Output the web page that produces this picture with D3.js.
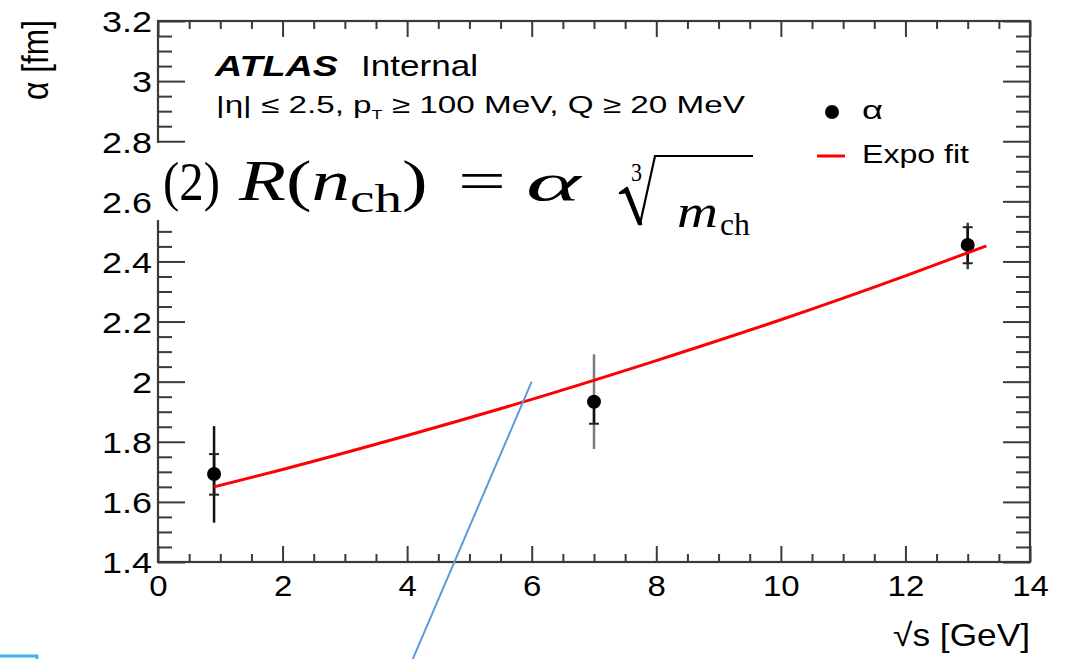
<!DOCTYPE html>
<html><head><meta charset="utf-8">
<script src="https://cdn.jsdelivr.net/npm/d3@7"></script>
<style>html,body{margin:0;padding:0;background:#fff;overflow:hidden}</style>
</head><body>
<svg id="chart" width="1071" height="659"></svg>
<script>
// Measured radius parameter alpha versus centre-of-mass energy
const energies = [0.9, 7, 13];
const alphaValues = [1.693, 1.933, 2.455];
const statErrorsUp = [0.066, 0.01, 0.059];
const statErrorsDown = [0.069, 0.073, 0.061];
const totalErrorsUp = [0.159, 0.158, 0.074];
const totalErrorsDown = [0.162, 0.157, 0.081];

// Exponential fit curve, sampled along sqrt(s)
const fitEnergies = [0.9, 2, 4, 6, 8, 10, 12, 13.3];
const fitValues = [1.650, 1.708, 1.821, 1.941, 2.070, 2.206, 2.352, 2.452];

const xTickValues = [0, 2, 4, 6, 8, 10, 12, 14];
const xTickLabels = ["0", "2", "4", "6", "8", "10", "12", "14"];
const yTickValues = [1.4, 1.6, 1.8, 2, 2.2, 2.4, 2.6, 2.8, 3, 3.2];
const yTickLabels = ["1.4", "1.6", "1.8", "2", "2.2", "2.4", "2.6", "2.8", "3", "3.2"];

const svg = d3.select("#chart");
const frame = {left: 158, right: 1030, top: 21, bottom: 562};
const x = d3.scaleLinear().domain([0, 14]).range([frame.left, frame.right]);
const y = d3.scaleLinear().domain([1.4, 3.2]).range([frame.bottom, frame.top]);

const SANS = "'Liberation Sans', Arial, Helvetica, sans-serif";
const SERIF = "'Liberation Serif', 'Times New Roman', serif";
const AXIS = "#3a3a3a";

const xMinor = d3.range(0, 29).map(i => i * 0.5).filter(v => v % 2 !== 0);
const yMinor = d3.range(0, 37).map(i => +(1.4 + i * 0.05).toFixed(2))
  .filter(v => Math.abs(v * 5 - Math.round(v * 5)) > 1e-6);

// Place a text run inside a group and stretch it along its length to a given width
function placeText(parent, opts, build) {
  const g = parent.append("g");
  const t = g.append("text")
    .attr("x", 0).attr("y", 0)
    .attr("text-anchor", opts.anchor || "start")
    .attr("font-family", opts.family || SANS)
    .attr("font-size", opts.size)
    .attr("fill", opts.fill || "#000");
  if (opts.weight) t.attr("font-weight", opts.weight);
  if (opts.style) t.attr("font-style", opts.style);
  if (build) build(t); else t.text(opts.text);
  const w = t.node().getBBox().width;
  const sx = opts.width ? opts.width / w : (opts.sx || 1);
  const sy = opts.sy || 1;
  g.attr("transform", `translate(${opts.x},${opts.y})${opts.rotate ? ` rotate(${opts.rotate})` : ""} scale(${sx},${sy})`);
  return g;
}

function styleTicks(g, width) {
  g.select(".domain").remove();
  g.selectAll(".tick line").attr("stroke", AXIS).attr("stroke-width", width || 2);
  return g;
}

// ---- axes: major and minor ticks on all four sides, pointing inward ----
const axes = svg.append("g");

styleTicks(axes.append("g").attr("transform", `translate(0,${frame.bottom})`)
  .call(d3.axisBottom(x).tickValues(xMinor).tickSizeInner(-8).tickSizeOuter(0).tickFormat("")));
styleTicks(axes.append("g").attr("transform", `translate(0,${frame.top})`)
  .call(d3.axisTop(x).tickValues(xMinor).tickSizeInner(-8).tickSizeOuter(0).tickFormat("")));
styleTicks(axes.append("g").attr("transform", `translate(0,${frame.top})`)
  .call(d3.axisTop(x).tickValues(xTickValues).tickSizeInner(-16).tickSizeOuter(0).tickFormat("")));
styleTicks(axes.append("g").attr("transform", `translate(${frame.left},0)`)
  .call(d3.axisLeft(y).tickValues(yMinor).tickSizeInner(-14).tickSizeOuter(0).tickFormat("")));
styleTicks(axes.append("g").attr("transform", `translate(${frame.right},0)`)
  .call(d3.axisRight(y).tickValues(yMinor).tickSizeInner(-14).tickSizeOuter(0).tickFormat("")));
styleTicks(axes.append("g").attr("transform", `translate(${frame.right},0)`)
  .call(d3.axisRight(y).tickValues(yTickValues).tickSizeInner(-27).tickSizeOuter(0).tickFormat("")));

const xAxis = styleTicks(axes.append("g").attr("transform", `translate(0,${frame.bottom})`)
  .call(d3.axisBottom(x).tickValues(xTickValues).tickSizeInner(-16).tickSizeOuter(0)
    .tickFormat((d, i) => xTickLabels[i])));
xAxis.selectAll(".tick text")
  .attr("y", 0).attr("dy", 0)
  .attr("transform", "translate(0,34) scale(1.1,1)")
  .attr("font-family", SANS).attr("font-size", 30).attr("fill", "#000");

const yAxis = styleTicks(axes.append("g").attr("transform", `translate(${frame.left},0)`)
  .call(d3.axisLeft(y).tickValues(yTickValues).tickSizeInner(-27).tickSizeOuter(0)
    .tickFormat((d, i) => yTickLabels[i])));
yAxis.selectAll(".tick text")
  .attr("x", 0).attr("dy", "0.36em")
  .attr("transform", "translate(-6,0) scale(1.2,1)")
  .attr("font-family", SANS).attr("font-size", 30).attr("fill", "#000");

axes.append("rect")
  .attr("x", frame.left).attr("y", frame.top)
  .attr("width", frame.right - frame.left).attr("height", frame.bottom - frame.top)
  .attr("fill", "none").attr("stroke", AXIS).attr("stroke-width", 2.2);

// ---- axis titles ----
placeText(svg, {x: 1030, y: 646, anchor: "end", size: 32, width: 137, text: "\u221As [GeV]"});
placeText(svg, {x: 48, y: 20, anchor: "end", size: 29, sy: 1.25, width: 80, rotate: -90, text: "\u03B1 [fm]"});

// ---- data points with error bars (outer: total, inner dark segment and caps: statistical) ----
const points = energies.map((e, i) => ({
  e, a: alphaValues[i],
  su: statErrorsUp[i], sd: statErrorsDown[i],
  tu: totalErrorsUp[i], td: totalErrorsDown[i]
}));
const barShades = ["#111", "#7a7a7a", "#3c3c3c"];
const pg = svg.append("g");
pg.selectAll("line.total").data(points).join("line").attr("class", "total")
  .attr("x1", d => x(d.e)).attr("x2", d => x(d.e))
  .attr("y1", d => y(d.a - d.td)).attr("y2", d => y(d.a + d.tu))
  .attr("stroke", (d, i) => barShades[i]).attr("stroke-width", 2.5);
pg.selectAll("line.stat").data(points).join("line").attr("class", "stat")
  .attr("x1", d => x(d.e)).attr("x2", d => x(d.e))
  .attr("y1", d => y(d.a - d.sd)).attr("y2", d => y(d.a + d.su))
  .attr("stroke", "#111").attr("stroke-width", 2.5);
pg.selectAll("g.caps").data(points).join("g").attr("class", "caps").each(function(d) {
  [d.a - d.sd, d.a + d.su].forEach(v => {
    d3.select(this).append("line")
      .attr("x1", x(d.e) - 5).attr("x2", x(d.e) + 5)
      .attr("y1", y(v)).attr("y2", y(v))
      .attr("stroke", "#222").attr("stroke-width", 2);
  });
});
pg.selectAll("circle").data(points).join("circle")
  .attr("cx", d => x(d.e)).attr("cy", d => y(d.a)).attr("r", 7).attr("fill", "#000");

// ---- exponential fit ----
const fitLine = d3.line().x(d => x(d[0])).y(d => y(d[1])).curve(d3.curveMonotoneX);
svg.append("path")
  .datum(fitEnergies.map((e, i) => [e, fitValues[i]]))
  .attr("d", fitLine).attr("fill", "none").attr("stroke", "#ff0000").attr("stroke-width", 3);

// ---- experiment label ----
placeText(svg, {x: 215, y: 76, size: 29, weight: "bold", style: "italic", width: 125, text: "ATLAS"});
placeText(svg, {x: 361, y: 76, size: 29, width: 117, text: "Internal"});
placeText(svg, {x: 216, y: 113, size: 24, width: 529}, t => {
  t.append("tspan").text("|\u03B7| \u2264 2.5, p");
  t.append("tspan").attr("font-size", 13).attr("dy", 6).text("T");
  t.append("tspan").attr("dy", -6).text(" \u2265 100 MeV, Q \u2265 20 MeV");
});

// ---- legend ----
const lg = svg.append("g");
lg.append("circle").attr("cx", 832).attr("cy", 112).attr("r", 7).attr("fill", "#000");
lg.append("line").attr("x1", 817).attr("x2", 845).attr("y1", 156).attr("y2", 156)
  .attr("stroke", "#ff0000").attr("stroke-width", 3);
placeText(lg, {x: 862, y: 119, size: 26, width: 21, text: "\u03B1"});
placeText(lg, {x: 862, y: 163, size: 26, width: 108, text: "Expo fit"});

// ---- radius formula ----
const fg = svg.append("g");
fg.append("rect").attr("x", 152).attr("y", 143).attr("width", 603).attr("height", 77).attr("fill", "#fff");
placeText(fg, {x: 163, y: 200, size: 54, family: SERIF, width: 57, text: "(2)"});
placeText(fg, {x: 239, y: 200, size: 56, family: SERIF, width: 190}, t => {
  t.append("tspan").attr("font-style", "italic").text("R");
  t.append("tspan").text("(");
  t.append("tspan").attr("font-style", "italic").text("n");
  t.append("tspan").attr("font-size", 40).attr("dy", 12).text("ch");
  t.append("tspan").attr("dy", -12).text(")");
});
placeText(fg, {x: 458, y: 200, size: 56, family: SERIF, width: 48, text: "="});
placeText(fg, {x: 526, y: 200, size: 52, family: SERIF, style: "italic", width: 58, text: "\u03B1"});
placeText(fg, {x: 631, y: 181, size: 26, family: SERIF, width: 11, text: "3"});
// radical sign: short lead-in, heavy down-stroke, thin up-stroke and vinculum
fg.append("path").attr("d", "M620,193 L627,188 L641,224 L639,224 L626,192 Z")
  .attr("fill", "#000").attr("stroke", "#000").attr("stroke-width", 2.5).attr("stroke-linejoin", "round");
fg.append("path").attr("d", "M640,224 L655,156 L753,156")
  .attr("fill", "none").attr("stroke", "#000").attr("stroke-width", 2.2);
placeText(fg, {x: 677, y: 227, size: 46, family: SERIF, style: "italic", width: 41, text: "m"});
placeText(fg, {x: 720, y: 235, size: 32, family: SERIF, width: 30, text: "ch"});

// ---- pointer line and corner box ----
svg.append("line")
  .attr("x1", x(6)).attr("y1", y(2.0)).attr("x2", x(4.09)).attr("y2", y(1.077))
  .attr("stroke", "#5b9bd5").attr("stroke-width", 2);
svg.append("rect").attr("x", -3).attr("y", 656).attr("width", 40).attr("height", 10)
  .attr("fill", "none").attr("stroke", "#3ab8ee").attr("stroke-width", 3);
</script>
</body></html>
